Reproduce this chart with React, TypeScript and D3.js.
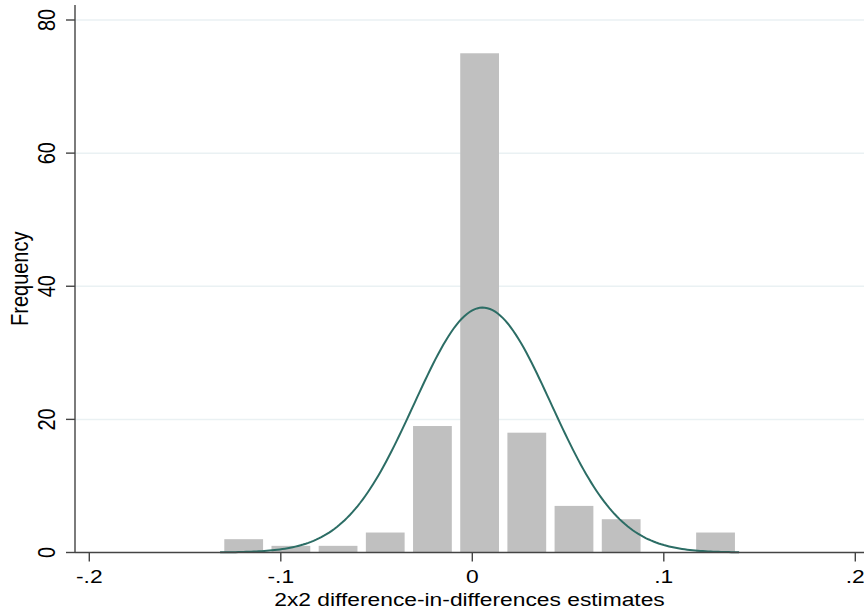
import React, { useEffect, useRef } from "react";
import * as d3 from "d3";

// histogram bins (frequency per bin)
const counts = [2, 1, 1, 3, 19, 75, 18, 7, 5, 0, 3];
const binStart = -0.1317;
const binWidth = 0.02464;

// normal overlay fitted to the estimates
const normalMean = 0.0054;
const normalSd = 0.0358;

const xTicks = [-0.2, -0.1, 0, 0.1, 0.2];
const xTickLabels = ["-.2", "-.1", "0", ".1", ".2"];
const yTicks = [0, 20, 40, 60, 80];
const yGrid = [20, 40, 60, 80];

const xTitle = "2x2 difference-in-differences estimates";
const yTitle = "Frequency";

const W = 864;
const H = 614;
const FONT = "'Liberation Sans', Arial, Helvetica, sans-serif";
const SX = 1.2; // the reference text is stretched sideways

export default function App() {
  const ref = useRef<SVGSVGElement>(null);

  useEffect(() => {
    const svg = d3.select(ref.current);
    svg.selectAll("*").remove();

    const left = 75;
    const right = W;
    const top = 5;
    const bottom = 552.5;

    const x = d3.scaleLinear().domain([-0.2, 0.2]).range([89.3, 855.3]);
    const y = d3.scaleLinear().domain([0, 80]).range([bottom, 20]);

    svg.append("rect").attr("width", W).attr("height", H).attr("fill", "#fff");

    // gridlines
    svg
      .append("g")
      .selectAll("line")
      .data(yGrid)
      .join("line")
      .attr("x1", left)
      .attr("x2", right)
      .attr("y1", (d) => y(d))
      .attr("y2", (d) => y(d))
      .attr("stroke", "#eaf1f3")
      .attr("stroke-width", 1.5);

    // bars
    const n = d3.sum(counts);
    const bins = counts.map((c, i) => ({
      x0: binStart + i * binWidth,
      x1: binStart + (i + 1) * binWidth,
      c,
    }));
    const gap = 4.2;
    svg
      .append("g")
      .selectAll("rect")
      .data(bins.filter((b) => b.c > 0))
      .join("rect")
      .attr("x", (d) => x(d.x0) + gap)
      .attr("width", (d) => x(d.x1) - x(d.x0) - gap * 2)
      .attr("y", (d) => y(d.c))
      .attr("height", (d) => y(0) - y(d.c))
      .attr("fill", "#c0c0c0");

    // normal density scaled to frequencies
    const lo = binStart;
    const hi = binStart + counts.length * binWidth;
    const pts = d3.range(0, 201).map((i) => {
      const v = lo + ((hi - lo) * i) / 200;
      const z = (v - normalMean) / normalSd;
      const f = (n * binWidth * Math.exp(-0.5 * z * z)) / (normalSd * Math.sqrt(2 * Math.PI));
      return [v, f] as [number, number];
    });
    const line = d3
      .line<[number, number]>()
      .x((d) => x(d[0]))
      .y((d) => y(d[1]));
    svg
      .append("path")
      .datum(pts)
      .attr("d", line)
      .attr("fill", "none")
      .attr("stroke", "#2c6d65")
      .attr("stroke-width", 2);

    // axes
    const axisColor = "#444";
    svg
      .append("line")
      .attr("x1", left)
      .attr("x2", left)
      .attr("y1", top)
      .attr("y2", bottom)
      .attr("stroke", axisColor)
      .attr("stroke-width", 1.4);
    svg
      .append("line")
      .attr("x1", left)
      .attr("x2", right)
      .attr("y1", bottom)
      .attr("y2", bottom)
      .attr("stroke", axisColor)
      .attr("stroke-width", 1.4);

    // y ticks + labels
    const yg = svg.append("g");
    yg.selectAll("line")
      .data(yTicks)
      .join("line")
      .attr("x1", left - 9)
      .attr("x2", left)
      .attr("y1", (d) => y(d))
      .attr("y2", (d) => y(d))
      .attr("stroke", axisColor)
      .attr("stroke-width", 1.4);
    yg.selectAll("text")
      .data(yTicks)
      .join("text")
      .attr("transform", (d) => `translate(55,${y(d)}) scale(${SX},1) rotate(-90)`)
      .attr("text-anchor", "middle")
      .attr("font-family", FONT)
      .attr("font-size", 20)
      .attr("fill", "#000")
      .text((d) => String(d));

    // x ticks + labels
    const xg = svg.append("g");
    xg.selectAll("line")
      .data(xTicks)
      .join("line")
      .attr("x1", (d) => x(d))
      .attr("x2", (d) => x(d))
      .attr("y1", bottom)
      .attr("y2", bottom + 9)
      .attr("stroke", axisColor)
      .attr("stroke-width", 1.4);
    xg.selectAll("text")
      .data(xTicks)
      .join("text")
      .attr("transform", (d) => `translate(${x(d)},582.5) scale(${SX},1)`)
      .attr("text-anchor", "middle")
      .attr("font-family", FONT)
      .attr("font-size", 19)
      .attr("fill", "#000")
      .text((d, i) => xTickLabels[i]);

    // titles
    svg
      .append("text")
      .attr("transform", `translate(${(left + right) / 2},605.5) scale(${SX},1)`)
      .attr("text-anchor", "middle")
      .attr("font-family", FONT)
      .attr("font-size", 19)
      .attr("fill", "#000")
      .text(xTitle);
    svg
      .append("text")
      .attr("transform", `translate(28,${(top + bottom) / 2}) scale(${SX},1) rotate(-90)`)
      .attr("text-anchor", "middle")
      .attr("font-family", FONT)
      .attr("font-size", 20)
      .attr("fill", "#000")
      .text(yTitle);
  }, []);

  return (
    <svg
      ref={ref}
      width={W}
      height={H}
      style={{ position: "absolute", left: 0, top: 0, display: "block" }}
    />
  );
}
